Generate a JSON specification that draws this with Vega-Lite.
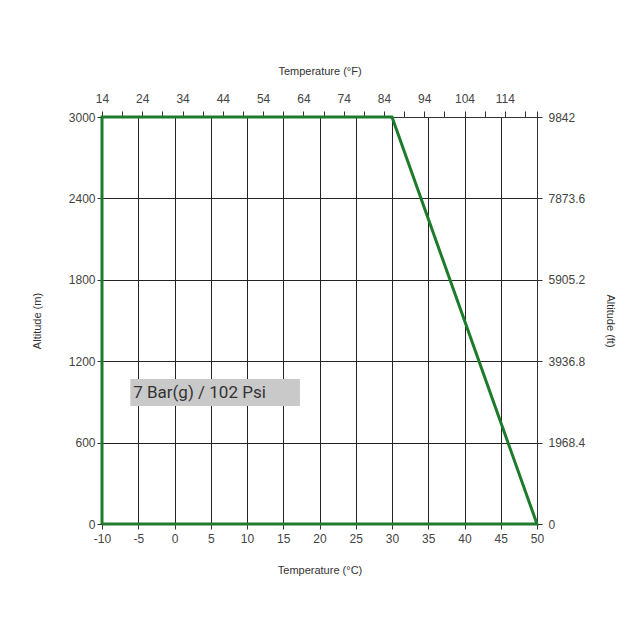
{
  "$schema": "https://vega.github.io/schema/vega-lite/v6.json",
  "width": 435,
  "height": 407,
  "autosize": {"type": "none"},
  "padding": {"left": 102, "top": 117, "right": 101, "bottom": 113},
  "background": "white",
  "config": {
    "view": {"stroke": null},
    "axis": {
      "labelFont": "Liberation Sans",
      "titleFont": "Liberation Sans",
      "labelFontSize": 12,
      "titleFontSize": 11,
      "titleFontWeight": "normal",
      "labelColor": "#444",
      "titleColor": "#333",
      "tickColor": "#333",
      "domainColor": "#333",
      "gridColor": "#222",
      "gridOpacity": 1,
      "gridWidth": 1,
      "labelOverlap": false,
      "labelFlush": false
    }
  },
  "datasets": {
    "curve": [
      {"order": 1, "c": -10, "m": 0, "f": 14, "ft": 0},
      {"order": 2, "c": -10, "m": 3000, "f": 14, "ft": 9842},
      {"order": 3, "c": 30, "m": 3000, "f": 86, "ft": 9842},
      {"order": 4, "c": 50, "m": 0, "f": 122, "ft": 0},
      {"order": 5, "c": -10, "m": 0, "f": 14, "ft": 0}
    ],
    "note": [
      {"label": "7 Bar(g) / 102 Psi", "c1": -6.1, "c2": 17.3, "m1": 870, "m2": 1069, "ct": -5.7, "mt": 968}
    ]
  },
  "layer": [
    {
      "data": {"name": "note"},
      "mark": {"type": "rect", "color": "#c9c9c9"},
      "encoding": {
        "x": {"field": "c1", "type": "quantitative", "axis": null, "scale": {"domain": [-10, 50], "nice": false, "zero": false}},
        "x2": {"field": "c2"},
        "y": {"field": "m1", "type": "quantitative", "axis": null, "scale": {"domain": [0, 3000], "nice": false}},
        "y2": {"field": "m2"}
      }
    },
    {
      "data": {"name": "curve"},
      "mark": {"type": "line", "color": "#1e7b2c", "strokeWidth": 3, "clip": false},
      "encoding": {
        "x": {
          "field": "c", "type": "quantitative",
          "scale": {"domain": [-10, 50], "nice": false, "zero": false},
          "axis": {
            "orient": "bottom",
            "title": "Temperature (°C)",
            "values": [-10, -5, 0, 5, 10, 15, 20, 25, 30, 35, 40, 45, 50],
            "labelExpr": "toString(datum.value)",
            "labelOverlap": false,
            "labelFlush": false,
            "grid": true,
            "domain": false,
            "tickSize": 5,
            "labelPadding": 4,
            "titlePadding": 20
          }
        },
        "y": {
          "field": "m", "type": "quantitative",
          "scale": {"domain": [0, 3000], "nice": false},
          "axis": {
            "orient": "left",
            "title": "Altitude (m)",
            "values": [0, 600, 1200, 1800, 2400, 3000],
            "labelExpr": "toString(datum.value)",
            "labelOverlap": false,
            "labelFlush": false,
            "grid": true,
            "domain": false,
            "tickSize": 5,
            "labelPadding": 2,
            "titlePadding": 26
          }
        },
        "order": {"field": "order", "type": "quantitative"}
      }
    },
    {
      "data": {"name": "note"},
      "mark": {"type": "text", "align": "left", "baseline": "middle", "font": "Roboto", "fontSize": 17, "color": "#333"},
      "encoding": {
        "x": {"field": "ct", "type": "quantitative", "axis": null, "scale": {"domain": [-10, 50], "nice": false, "zero": false}},
        "y": {"field": "mt", "type": "quantitative", "axis": null, "scale": {"domain": [0, 3000], "nice": false}},
        "text": {"field": "label"}
      }
    },
    {
      "data": {"name": "curve"},
      "mark": {"type": "line", "opacity": 0},
      "encoding": {
        "x": {
          "field": "f", "type": "quantitative",
          "scale": {"domain": [14, 122], "nice": false, "zero": false},
          "axis": {
            "orient": "top",
            "title": "Temperature (°F)",
            "values": [14, 19, 24, 29, 34, 39, 44, 49, 54, 59, 64, 69, 74, 79, 84, 89, 94, 99, 104, 109, 114, 119, 122],
            "labelExpr": "(datum.value - 14) % 10 == 0 && datum.value <= 114 ? toString(datum.value) : ''",
            "labelOverlap": false,
            "labelFlush": false,
            "grid": false,
            "domain": true,
            "tickSize": 6,
            "labelPadding": 6,
            "titlePadding": 16
          }
        },
        "y": {
          "field": "ft", "type": "quantitative",
          "scale": {"domain": [0, 9842], "nice": false},
          "axis": {
            "orient": "right",
            "title": "Altitude (ft)",
            "titleAngle": 90,
            "values": [0, 1968.4, 3936.8, 5905.2, 7873.6, 9842],
            "labelExpr": "toString(datum.value)",
            "labelOverlap": false,
            "labelFlush": false,
            "grid": false,
            "domain": true,
            "tickSize": 5,
            "labelPadding": 6,
            "titlePadding": 20
          }
        },
        "order": {"field": "order", "type": "quantitative"}
      }
    }
  ],
  "resolve": {"scale": {"x": "independent", "y": "independent"}}
}
